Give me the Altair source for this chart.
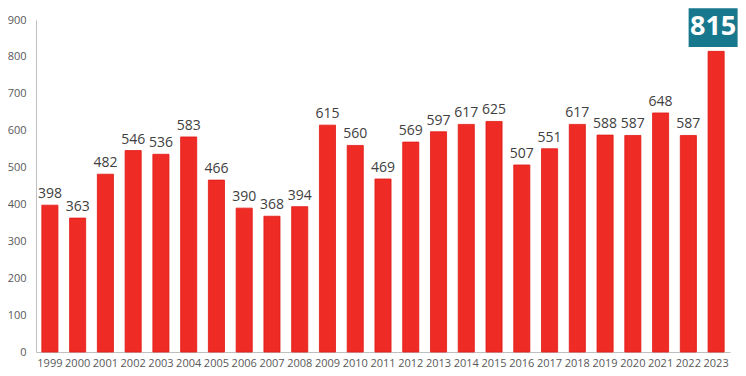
import altair as alt
import pandas as pd

years = [str(y) for y in range(1999, 2024)]
values = [398, 363, 482, 546, 536, 583, 466, 390, 368, 394, 615, 560, 469,
          569, 597, 617, 625, 507, 551, 617, 588, 587, 648, 587, 815]
y_ticks = [0, 100, 200, 300, 400, 500, 600, 700, 800, 900]

df = pd.DataFrame({"year": years, "value": values})
df_last = df[df["year"] == "2023"].copy()
df_main = df[df["year"] != "2023"].copy()

xscale = alt.Scale(paddingInner=0.42, paddingOuter=0.21)
xaxis = alt.Axis(labelAngle=0, labelFont="Open Sans", labelFontSize=11,
                 labelColor="#595959", ticks=False, domainColor="#bfbfbf",
                 labelPadding=5, labelOverlap=False)
yscale = alt.Scale(domain=[0, 900], nice=False)
yaxis = alt.Axis(values=y_ticks, grid=False, ticks=False,
                 labelFont="Open Sans", labelFontSize=11, labelColor="#595959",
                 domainColor="#bfbfbf", labelPadding=10, labelOverlap=False)


def X():
    return alt.X("year:N", sort=years, title=None, scale=xscale, axis=xaxis)


def Y(field):
    return alt.Y(field, scale=yscale, axis=yaxis, title=None)


bars = alt.Chart(df).mark_bar(color="#ee2b25", stroke="#e21a15", strokeWidth=0.8).encode(
    x=X(), y=Y("value:Q"),
)

labels = alt.Chart(df_main).mark_text(
    baseline="bottom", dy=-4, font="Open Sans", fontSize=14, color="#404040"
).encode(
    x=X(), y=Y("value:Q"), text=alt.Text("value:Q"),
)

box = alt.Chart(df_last).transform_calculate(
    lo="827", hi="932"
).mark_bar(color="#17788d", width=49, xOffset=-3, clip=False).encode(
    x=X(), y=Y("lo:Q"), y2="hi:Q",
)

boxtext = alt.Chart(df_last).transform_calculate(
    mid="880"
).mark_text(font="Open Sans", fontSize=27, fontWeight="bold", color="white",
            baseline="middle", dx=-3, clip=False).encode(
    x=X(), y=Y("mid:Q"), text=alt.Text("value:Q"),
)

chart = alt.layer(bars, labels, box, boxtext).properties(
    width=694, height=332,
    autosize=alt.AutoSizeParams(type="none"),
    padding={"left": 28, "top": 12, "right": 8, "bottom": 16},
).configure_view(stroke=None)

chart.save("out.html", embed_options={"renderer": "svg", "actions": False})
